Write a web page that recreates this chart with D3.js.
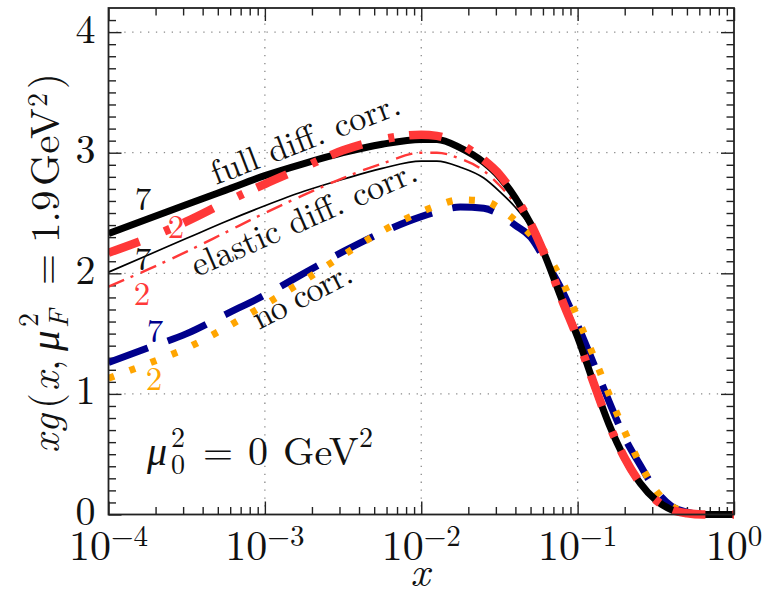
<!DOCTYPE html>
<html><head><meta charset="utf-8">
<script src="https://cdn.jsdelivr.net/npm/d3@7"></script>
<style>body{margin:0;background:#fff} svg{display:block}</style></head>
<body><svg id="chart" width="763" height="597"></svg>
<script>
// ---- data ----
const xExp = [-4, -3.75, -3.5, -3.25, -3, -2.75, -2.5, -2.25, -2, -1.9, -1.75, -1.6, -1.5, -1.4, -1.3, -1.2, -1.1, -1.0, -0.9, -0.8, -0.7, -0.6, -0.5, -0.4, -0.3, -0.2, -0.1, 0];
const fullDiff7 = [2.33, 2.45, 2.57, 2.69, 2.81, 2.91, 3.00, 3.07, 3.11, 3.11, 3.04, 2.92, 2.80, 2.63, 2.41, 2.12, 1.78, 1.47, 1.10, 0.75, 0.47, 0.26, 0.12, 0.04, 0.01, 0.0, 0.0, 0.0];
const fullDiff2 = [2.17, 2.29, 2.43, 2.59, 2.74, 2.88, 3.02, 3.11, 3.15, 3.14, 3.07, 2.94, 2.82, 2.64, 2.41, 2.12, 1.78, 1.46, 1.10, 0.75, 0.47, 0.26, 0.12, 0.04, 0.01, 0.0, 0.0, 0.0];
const elastic7  = [2.01, 2.15, 2.29, 2.43, 2.56, 2.68, 2.78, 2.87, 2.93, 2.93, 2.88, 2.79, 2.68, 2.55, 2.38, 2.12, 1.78, 1.47, 1.10, 0.75, 0.47, 0.26, 0.12, 0.04, 0.01, 0.0, 0.0, 0.0];
const elastic2  = [1.89, 2.03, 2.18, 2.34, 2.50, 2.65, 2.79, 2.91, 3.00, 3.00, 2.95, 2.85, 2.73, 2.58, 2.40, 2.12, 1.78, 1.47, 1.10, 0.75, 0.47, 0.26, 0.12, 0.04, 0.01, 0.0, 0.0, 0.0];
const noCorr7   = [1.26, 1.38, 1.50, 1.66, 1.82, 2.00, 2.18, 2.34, 2.47, 2.51, 2.55, 2.54, 2.49, 2.40, 2.30, 2.09, 1.86, 1.57, 1.26, 0.94, 0.64, 0.41, 0.20, 0.07, 0.02, 0.0, 0.0, 0.0];
const noCorr2   = [1.13, 1.25, 1.38, 1.55, 1.74, 1.94, 2.15, 2.35, 2.51, 2.56, 2.61, 2.60, 2.54, 2.44, 2.32, 2.16, 1.94, 1.63, 1.32, 1.00, 0.69, 0.42, 0.20, 0.07, 0.02, 0.0, 0.0, 0.0];
const yTicks = [0, 1, 2, 3, 4];
const xTickExps = [-4, -3, -2, -1, 0];
const curveLabels = ["full diff. corr.", "elastic diff. corr.", "no corr."];

// ---- layout ----
const FONT = '"Latin Modern Roman", "Liberation Serif", serif';
const svg = d3.select("#chart");
const L = 108.5, R = 734, T = 8, B = 514.5;
const x = d3.scaleLog().domain([1e-4, 1]).range([L, R]);
const y = d3.scaleLinear().domain([0, 4.2]).range([B, T]);
const xMajor = xTickExps.map(e => Math.pow(10, e));
const xMinor = [];
for (let e = -4; e < 0; e++) for (let k = 2; k <= 9; k++) xMinor.push(k * Math.pow(10, e));
const yMinor = d3.range(0, 42).map(i => i / 10).filter(v => Math.abs(v - Math.round(v)) > 1e-6);
const ft = sel => sel.style("font-family", FONT).style("fill", "#111");

// grid
const grid = svg.append("g").attr("stroke", "#8a8a8a").attr("stroke-width", 1.3).attr("stroke-dasharray", "1.3,6.6");
grid.selectAll("line.gx").data(xMajor.slice(1, -1)).join("line")
  .attr("x1", d => x(d)).attr("x2", d => x(d)).attr("y1", B).attr("y2", T);
grid.selectAll("line.gy").data(yTicks.slice(1)).join("line")
  .attr("x1", L).attr("x2", R).attr("y1", d => y(d)).attr("y2", d => y(d));

// axes (ticks inside)
function ax(g) { g.select(".domain").remove(); g.selectAll("line").attr("stroke", "#222").attr("stroke-width", 1.4); }
svg.append("g").attr("transform", `translate(0,${B})`).call(d3.axisBottom(x).tickValues(xMajor).tickSize(-13).tickFormat(() => "")).call(ax);
svg.append("g").attr("transform", `translate(0,${B})`).call(d3.axisBottom(x).tickValues(xMinor).tickSize(-7.5).tickFormat(() => "")).call(ax);
svg.append("g").attr("transform", `translate(0,${T})`).call(d3.axisTop(x).tickValues(xMajor).tickSize(-13).tickFormat(() => "")).call(ax);
svg.append("g").attr("transform", `translate(0,${T})`).call(d3.axisTop(x).tickValues(xMinor).tickSize(-7.5).tickFormat(() => "")).call(ax);
const yAx = svg.append("g").attr("transform", `translate(${L},0)`).call(d3.axisLeft(y).tickValues(yTicks).tickSize(-13).tickPadding(13).tickFormat(d3.format("d"))).call(ax);
yAx.selectAll("text").attr("font-size", 40).attr("dy", 10).call(ft);
svg.append("g").attr("transform", `translate(${L},0)`).call(d3.axisLeft(y).tickValues(yMinor).tickSize(-7.5).tickFormat(() => "")).call(ax);
svg.append("g").attr("transform", `translate(${R},0)`).call(d3.axisRight(y).tickValues(yTicks).tickSize(-13).tickFormat(() => "")).call(ax);
svg.append("g").attr("transform", `translate(${R},0)`).call(d3.axisRight(y).tickValues(yMinor).tickSize(-7.5).tickFormat(() => "")).call(ax);

// x tick labels 10^n
const xl = svg.append("g").selectAll("text").data(xTickExps).join("text")
  .attr("x", d => x(Math.pow(10, d))).attr("y", 560).attr("text-anchor", "middle").attr("font-size", 42).call(ft);
xl.append("tspan").text("10");
xl.append("tspan").attr("font-size", 29).attr("dy", -14).text(d => d === 0 ? "0" : "\u2212" + Math.abs(d));

// curves
svg.append("clipPath").attr("id", "pc").append("rect").attr("x", L).attr("y", T).attr("width", R - L + 4).attr("height", B - T + 6);
const line = d3.line().x((d, i) => x(Math.pow(10, xExp[i]))).y(d => y(d)).curve(d3.curveMonotoneX);
const cg = svg.append("g").attr("clip-path", "url(#pc)").attr("fill", "none");
const series = [
  { v: noCorr7, c: "#00008c", w: 7, dash: "42,21" },
  { v: noCorr2, c: "#ffa500", w: 7, dash: "6,16.5" },
  { v: elastic7, c: "#000", w: 1.7, dash: null },
  { v: elastic2, c: "#ff3838", w: 2.4, dash: "17,7,3,8" },
  { v: fullDiff7, c: "#000", w: 7, dash: null },
  { v: fullDiff2, c: "#ff3838", w: 8.5, dash: "33,27,6,15" }
];
series.forEach(s => {
  cg.append("path").attr("d", line(s.v)).attr("stroke", s.c).attr("stroke-width", s.w)
    .attr("stroke-dasharray", s.dash).attr("stroke-linecap", "butt").attr("stroke-linejoin", "round");
});

// frame
svg.append("rect").attr("x", L).attr("y", T).attr("width", R - L).attr("height", B - T)
  .attr("fill", "none").attr("stroke", "#222").attr("stroke-width", 1.8);

// curve labels
const cl = [
  { t: curveLabels[0], x: 216, y: 185, a: -21, len: 200 },
  { t: curveLabels[1], x: 197, y: 277, a: -23.5, len: 243 },
  { t: curveLabels[2], x: 259, y: 330, a: -27, len: 108 }
];
cl.forEach(c => svg.append("text").attr("transform", `translate(${c.x},${c.y}) rotate(${c.a})`)
  .attr("font-size", 34).attr("textLength", c.len).attr("lengthAdjust", "spacing").call(ft).text(c.t));

// Nf labels
const nl = [
  { t: "7", x: 143, y: 210, c: "#111" },
  { t: "2", x: 176, y: 238, c: "#ff3838" },
  { t: "7", x: 143, y: 270, c: "#111" },
  { t: "2", x: 142, y: 305, c: "#ff3838" },
  { t: "7", x: 155, y: 342, c: "#00008c" },
  { t: "2", x: 154, y: 390, c: "#ffa500" }
];
nl.forEach(n => svg.append("text").attr("x", n.x).attr("y", n.y).attr("text-anchor", "middle")
  .attr("font-size", 33).call(ft).style("fill", n.c).text(n.t));

// mu_0^2 = 0 GeV^2
const mt = svg.append("g");
const mtxt = (t, xx, yy, fs, it) => mt.append("text").attr("x", xx).attr("y", yy).attr("font-size", fs)
  .call(ft).style("font-style", it ? "italic" : "normal").text(t);
mtxt("\u03bc", 147, 465, 40, true);
mtxt("2", 171, 447, 28);
mtxt("0", 171, 474, 28);
mtxt("=", 203, 465, 40).attr("textLength", 30).attr("lengthAdjust", "spacingAndGlyphs");
mtxt("0", 248, 465, 40);
mtxt("GeV", 283, 465, 40);
mtxt("2", 359, 447, 28);

// x axis title
svg.append("text").attr("x", 420).attr("y", 586).attr("text-anchor", "middle").attr("font-size", 42)
  .call(ft).style("font-style", "italic").text("x");

// y axis title, pieces placed along the rotated baseline
const yPieces = [
  { t: "x", p: 453, it: 1 }, { t: "g", p: 433, it: 1 }, { t: "(", p: 409 }, { t: "x", p: 391, it: 1 },
  { t: ",", p: 371 }, { t: "\u03bc", p: 351, it: 1 }, { t: "2", p: 327, fs: 28, sh: -21 },
  { t: "F", p: 328, fs: 28, sh: 9, it: 1 }, { t: "=", p: 285, tl: 31 }, { t: "1.9", p: 243 },
  { t: "GeV", p: 186 }, { t: "2", p: 107, fs: 28, sh: -12 }, { t: ")", p: 89 }
];
yPieces.forEach(q => {
  const t = svg.append("text").attr("transform", `translate(${59 + (q.sh || 0)},${q.p}) rotate(-90)`)
    .attr("font-size", q.fs || 41).call(ft).style("font-style", q.it ? "italic" : "normal").text(q.t);
  if (q.tl) t.attr("textLength", q.tl).attr("lengthAdjust", "spacingAndGlyphs");
});
</script></body></html>
